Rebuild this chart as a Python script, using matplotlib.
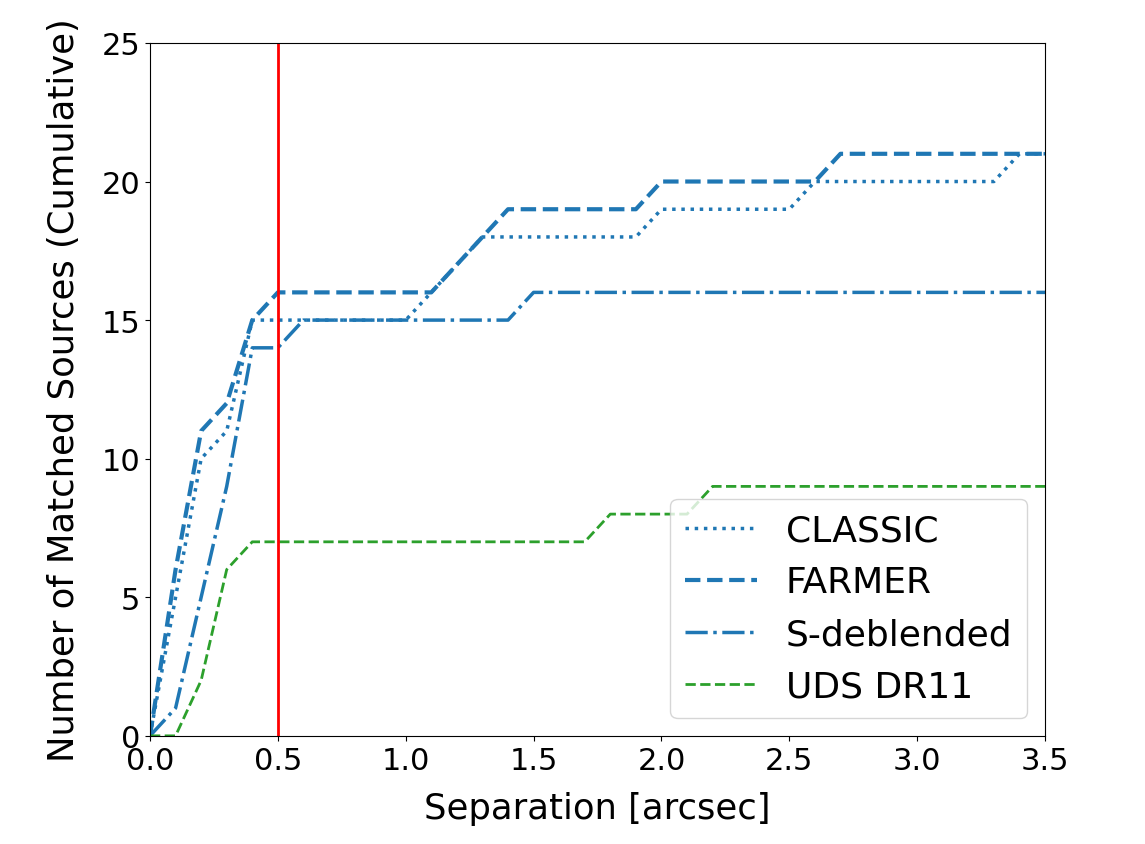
import numpy as np
import matplotlib
matplotlib.use("Agg")
import matplotlib.pyplot as plt

# separation grid in arcsec
sep = [0.0, 0.1, 0.2, 0.3, 0.4, 0.5, 0.6, 0.7, 0.8, 0.9,
       1.0, 1.1, 1.2, 1.3, 1.4, 1.5, 1.6, 1.7, 1.8, 1.9,
       2.0, 2.1, 2.2, 2.3, 2.4, 2.5, 2.6, 2.7, 2.8, 2.9,
       3.0, 3.1, 3.2, 3.3, 3.4, 3.5]

# cumulative number of matched sources at each separation
classic = [0, 5, 10, 11, 15, 15, 15, 15, 15, 15,
           15, 16, 17, 18, 18, 18, 18, 18, 18, 18,
           19, 19, 19, 19, 19, 19, 20, 20, 20, 20,
           20, 20, 20, 20, 21, 21]
farmer = [0, 6, 11, 12, 15, 16, 16, 16, 16, 16,
          16, 16, 17, 18, 19, 19, 19, 19, 19, 19,
          20, 20, 20, 20, 20, 20, 20, 21, 21, 21,
          21, 21, 21, 21, 21, 21]
sdeblend = [0, 1, 5, 9, 14, 14, 15, 15, 15, 15,
            15, 15, 15, 15, 15, 16, 16, 16, 16, 16,
            16, 16, 16, 16, 16, 16, 16, 16, 16, 16,
            16, 16, 16, 16, 16, 16]
uds_dr11 = [0, 0, 2, 6, 7, 7, 7, 7, 7, 7,
            7, 7, 7, 7, 7, 7, 7, 7, 8, 8,
            8, 8, 9, 9, 9, 9, 9, 9, 9, 9,
            9, 9, 9, 9, 9, 9]

sep_cut = 0.5

fig = plt.figure(figsize=(11.45, 8.45), dpi=100)
ax = fig.add_axes([0.131, 0.128, 0.7817, 0.820])

ax.plot(sep, classic, ls=':', lw=2.5, color='tab:blue', label='CLASSIC')
ax.plot(sep, farmer, ls='--', lw=3, color='tab:blue', label='FARMER')
ax.plot(sep, sdeblend, ls='-.', lw=2.5, color='tab:blue', label='S-deblended')
ax.plot(sep, uds_dr11, ls='--', lw=2, color='tab:green', label='UDS DR11')
ax.axvline(sep_cut, color='red', lw=2)

ax.set_xlim(0, 3.5)
ax.set_ylim(0, 25)
ax.set_xticks(np.arange(0, 3.51, 0.5))
ax.set_yticks(np.arange(0, 26, 5))
ax.tick_params(labelsize=22)
ax.set_xlabel('Separation [arcsec]', fontsize=25.5, labelpad=12)
ax.set_ylabel('Number of Matched Sources (Cumulative)', fontsize=25.5, labelpad=15)
ax.legend(loc='lower right', fontsize=26)

fig.savefig('out.png', dpi=100)
